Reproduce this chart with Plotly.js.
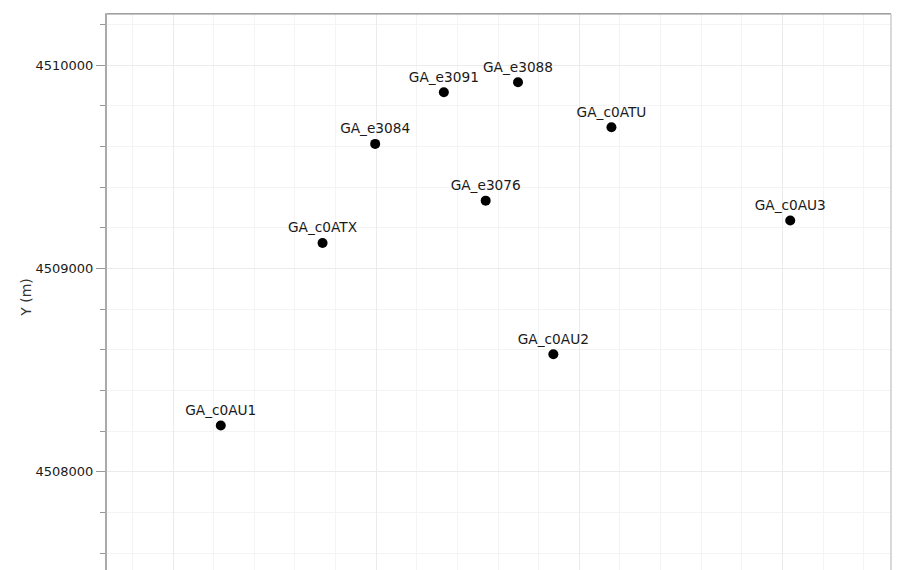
<!DOCTYPE html>
<html>
<head>
<meta charset="utf-8">
<script src="https://cdn.plot.ly/plotly-3.0.1.min.js"></script>
<style>
html, body { margin: 0; padding: 0; overflow: hidden; background: #fff; }
#chart { width: 897px; height: 630px; }
</style>
</head>
<body>
<div id="chart"></div>
<script>
// Station names and coordinates (m)
const stationNames = ["GA_c0AU1", "GA_c0ATX", "GA_e3084", "GA_e3091", "GA_e3088", "GA_e3076", "GA_c0ATU", "GA_c0AU3", "GA_c0AU2"];
const stationX = [440235, 440736, 440995, 441333, 441698, 441539, 442158, 443038, 441872];
const stationY = [4508228, 4509126, 4509613, 4509867, 4509916, 4509334, 4509695, 4509236, 4508578];

const FONT = "DejaVu Sans";

const trace = {
  type: "scatter",
  mode: "markers+text",
  x: stationX,
  y: stationY,
  text: stationNames,
  textposition: "top center",
  textfont: { family: FONT, size: 13.7, color: "#1a1a1a" },
  marker: { color: "#000", size: 10 },
  hoverinfo: "x+y+text",
  cliponaxis: false
};

const layout = {
  width: 897,
  height: 630,
  margin: { l: 107, r: 6, t: 14, b: 50 },
  paper_bgcolor: "#fff",
  plot_bgcolor: "#fff",
  showlegend: false,
  font: { family: FONT, size: 13, color: "#1a1a1a" },
  xaxis: {
    range: [439675, 443534],
    dtick: 1000,
    tick0: 440000,
    showgrid: true,
    gridcolor: "#ebebeb",
    gridwidth: 1,
    zeroline: false,
    showline: true,
    linecolor: "#bbb",
    linewidth: 1,
    mirror: true,
    ticks: "",
    showticklabels: false,
    minor: { dtick: 200, showgrid: true, gridcolor: "#f4f4f4", gridwidth: 1 }
  },
  yaxis: {
    range: [4507468, 4510252],
    dtick: 1000,
    tick0: 4508000,
    showgrid: true,
    gridcolor: "#ebebeb",
    gridwidth: 1,
    zeroline: false,
    showline: true,
    linecolor: "#aaa",
    linewidth: 2,
    mirror: false,
    ticks: "outside",
    ticklen: 9,
    tickcolor: "#999",
    tickformat: "d",
    tickfont: { family: FONT, size: 13, color: "#1a1a1a" },
    title: { text: "Y (m)", font: { family: FONT, size: 14, color: "#333" }, standoff: 1 },
    minor: { dtick: 200, showgrid: true, gridcolor: "#f4f4f4", gridwidth: 1, ticks: "outside", ticklen: 5, tickcolor: "#999" }
  },
  shapes: [
    { type: "line", xref: "paper", yref: "paper", x0: 0, x1: 1, y0: 1, y1: 1, line: { color: "#888", width: 1 } },
    { type: "line", xref: "paper", yref: "paper", x0: 1, x1: 1, y0: 0, y1: 1, line: { color: "#ccc", width: 1.5 } }
  ]
};

Plotly.newPlot("chart", [trace], layout, { displayModeBar: false, staticPlot: true });
</script>
</body>
</html>
